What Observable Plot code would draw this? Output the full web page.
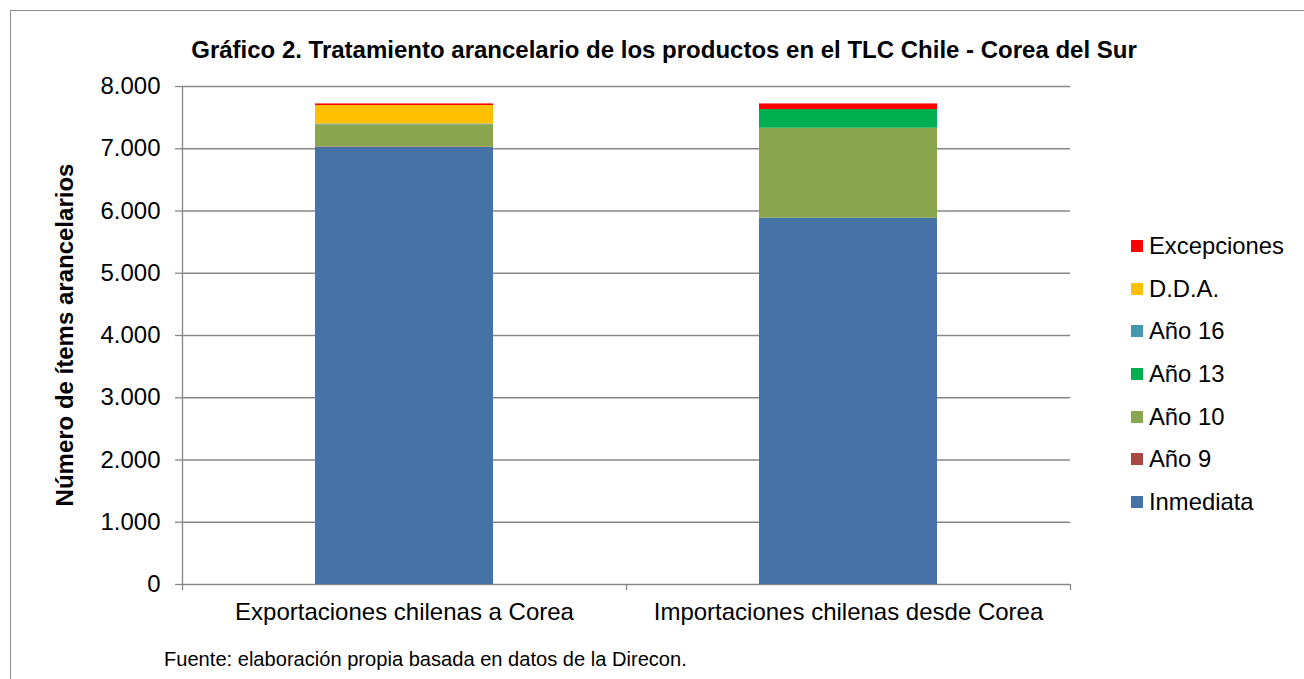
<!DOCTYPE html>
<html>
<head>
<meta charset="utf-8">
<script src="https://cdn.jsdelivr.net/npm/d3@7"></script>
<script src="https://cdn.jsdelivr.net/npm/@observablehq/plot@0.6"></script>
<style>
  html, body { margin: 0; padding: 0; background: #fff; }
  body { font-family: "Liberation Sans", Arial, sans-serif; }
  #wrap { position: relative; width: 1304px; height: 679px; overflow: hidden; }
  #border { position: absolute; left: 10px; top: 10px; width: 1310px; height: 700px; border: 1.5px solid #8c8c8c; box-sizing: border-box; }
  #title { position: absolute; left: 0; width: 1328px; top: 36px; text-align: center; font-weight: bold; font-size: 24px; color: #000; line-height: 28px; }
  #ylabel { position: absolute; left: 65px; top: 335px; transform: translate(-50%, -50%) rotate(-90deg); white-space: nowrap; font-weight: bold; font-size: 24px; }
  #chart { position: absolute; left: 0; top: 0; }
  #legend { position: absolute; left: 1131px; top: 225px; }
  .li { display: flex; align-items: center; height: 42.6px; font-size: 23.8px; color: #000; }
  .sw { width: 12px; height: 12px; margin-right: 6px; }
  #caption { position: absolute; left: 164px; top: 648px; font-size: 20.1px; color: #000; }
</style>
</head>
<body>
<div id="wrap">
  <div id="border"></div>
  <div id="chart"></div>
  <div id="title">Gráfico 2. Tratamiento arancelario de los productos en el TLC Chile - Corea del Sur</div>
  <div id="ylabel">Número de ítems arancelarios</div>
  <div id="legend"></div>
  <div id="caption">Fuente: elaboración propia basada en datos de la Direcon.</div>
</div>
<script>
const categories = ["Exportaciones chilenas a Corea", "Importaciones chilenas desde Corea"];
const seriesNames = ["Inmediata", "Año 9", "Año 10", "Año 13", "Año 16", "D.D.A.", "Excepciones"];
const seriesColors = ["#4572A7", "#AA4643", "#89A54E", "#00B050", "#4198AF", "#FFC000", "#FF0000"];
const inmediata   = [7020, 5884];
const ano9        = [8, 0];
const ano10       = [357, 1446];
const ano13       = [0, 300];
const ano16       = [12, 0];
const dda         = [298, 0];
const excepciones = [25, 90];
const yTicks = [0, 1000, 2000, 3000, 4000, 5000, 6000, 7000, 8000];

const seriesValues = [inmediata, ano9, ano10, ano13, ano16, dda, excepciones];
const data = [];
seriesNames.forEach((s, si) => {
  categories.forEach((c, ci) => data.push({cat: c, series: s, value: seriesValues[si][ci]}));
});

const W = 1304, H = 679, mL = 182, mR = 234, mT = 86, mB = 95;
const step = (W - mL - mR) / categories.length;
const fmt = d => d3.format(",")(d).replace(/,/g, ".");

const chart = Plot.plot({
  width: W, height: H,
  marginLeft: mL, marginRight: mR, marginTop: mT, marginBottom: mB,
  style: {fontFamily: "Liberation Sans, Arial, sans-serif", background: "transparent"},
  x: {domain: categories, paddingInner: 0.6, paddingOuter: 0.3, label: null},
  y: {domain: [0, 8000], label: null},
  color: {domain: seriesNames, range: seriesColors},
  marks: [
    Plot.ruleY(yTicks, {y: d => d, stroke: "#878787", strokeWidth: 1.3}),
    Plot.barY(data, Plot.stackY({x: "cat", y: "value", fill: "series", order: seriesNames})),
    Plot.ruleX([categories[0]], {x: d => d, dx: -step / 2, y1: 0, y2: 8000, stroke: "#878787", strokeWidth: 1.3}),
    Plot.ruleX(categories, {x: d => d, dx: -step / 2, y1: 0, y2: 0, insetBottom: -6, stroke: "#878787", strokeWidth: 1.3}),
    Plot.ruleX([categories[categories.length - 1]], {x: d => d, dx: step / 2, y1: 0, y2: 0, insetBottom: -6, stroke: "#878787", strokeWidth: 1.3}),
    Plot.axisY({ticks: yTicks, tickFormat: fmt, tickSize: 7, tickPadding: 15, fontSize: 24, stroke: "#878787", strokeWidth: 1.3, color: "#000"}),
    Plot.axisX({tickSize: 0, tickPadding: 18, fontSize: 24, color: "#000"})
  ]
});
d3.select(chart).selectAll("text").attr("fill", "#000");
document.getElementById("chart").appendChild(chart);

const legend = document.getElementById("legend");
seriesNames.slice().reverse().forEach(s => {
  const i = seriesNames.indexOf(s);
  const row = document.createElement("div");
  row.className = "li";
  row.innerHTML = `<span class="sw" style="background:${seriesColors[i]}"></span><span>${s}</span>`;
  legend.appendChild(row);
});
</script>
</body>
</html>
